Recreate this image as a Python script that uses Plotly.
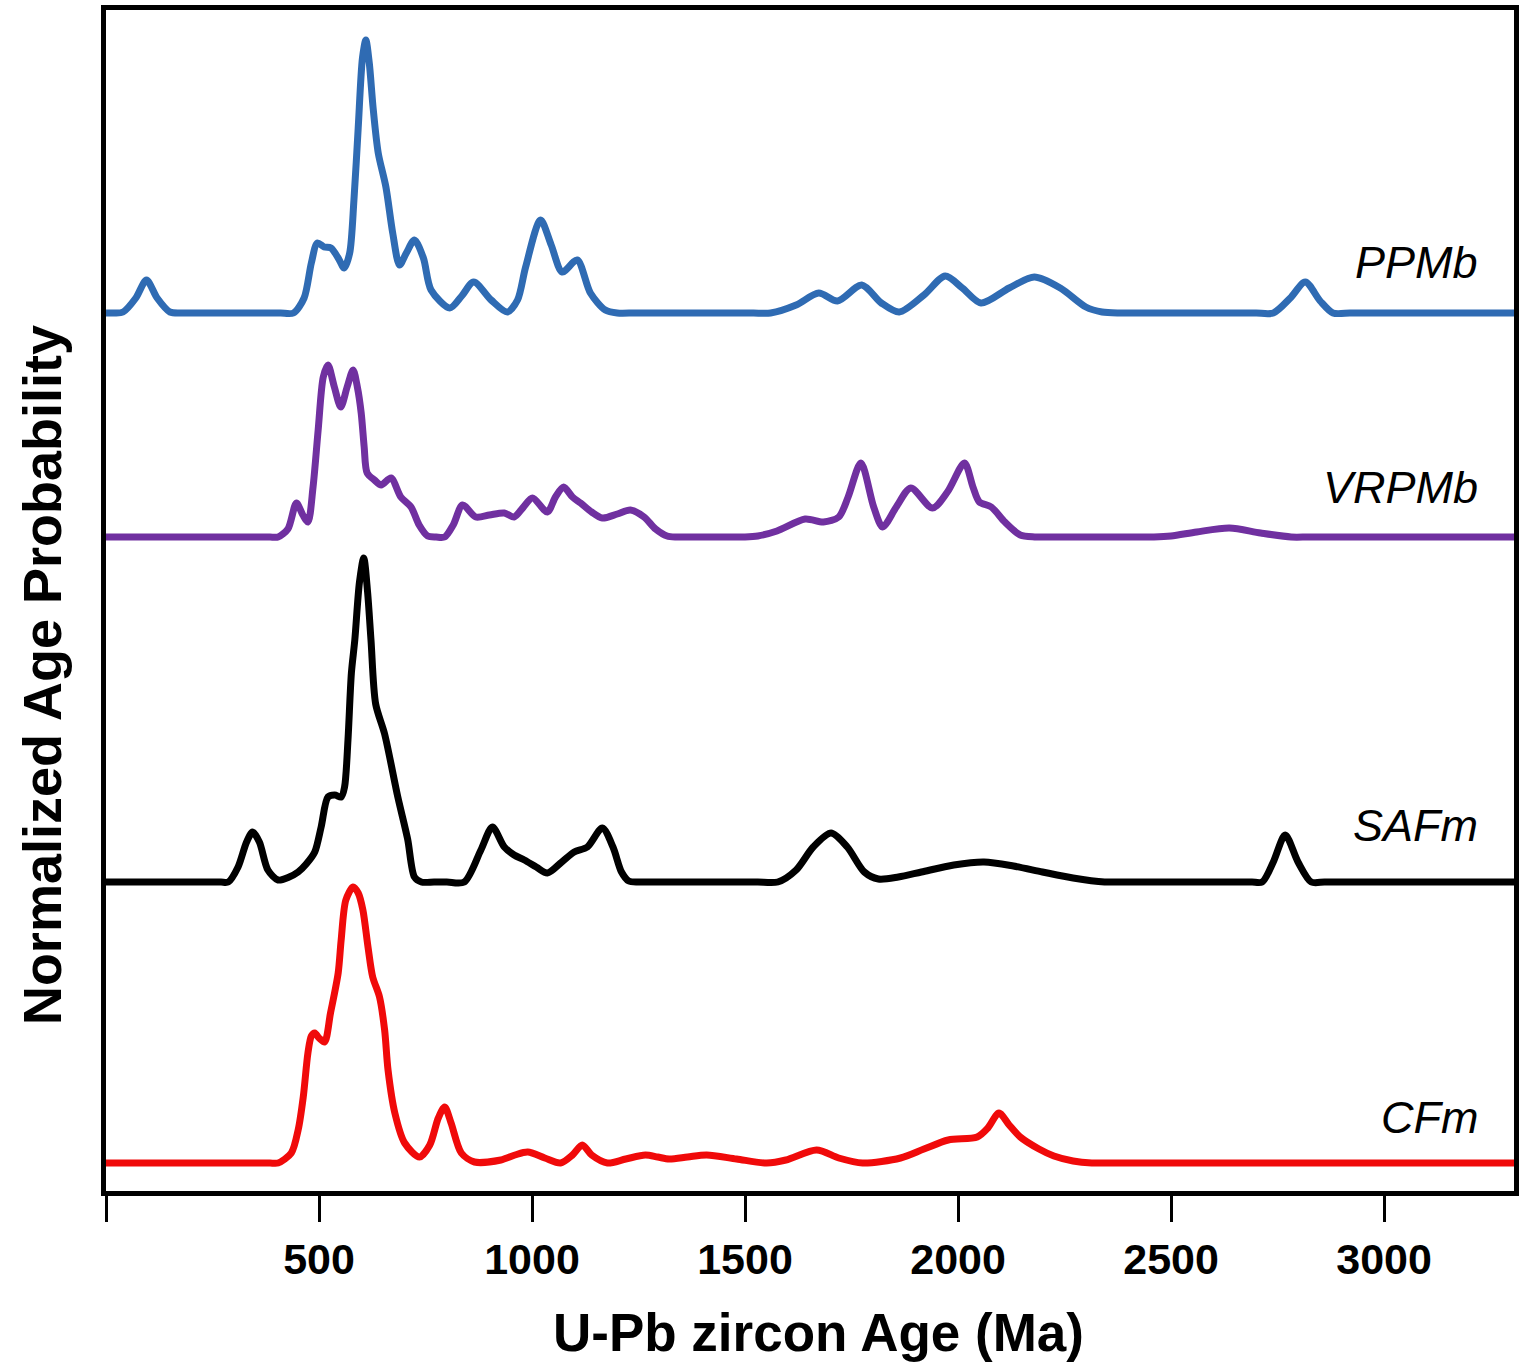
import plotly.graph_objects as go

# ---------------- data ----------------
# relative probability heights (arbitrary units) at given ages (Ma)
ppmb_age = [0, 20, 40, 70, 95, 120, 150, 180, 220, 260, 300, 340, 380, 410, 440, 465, 482, 496, 512, 528,
            545, 559, 572, 582, 592, 602, 610, 618, 627, 639, 657, 673, 689, 705, 724, 745, 763, 807, 835,
            863, 904, 942, 966, 985, 1020, 1045, 1071, 1106, 1137, 1172, 1200, 1240, 1280, 1320, 1360,
            1400, 1440, 1480, 1520, 1560, 1620, 1673, 1717, 1774, 1820, 1862, 1920, 1970, 2010, 2054, 2120,
            2179, 2240, 2300, 2338, 2380, 2420, 2460, 2500, 2540, 2580, 2620, 2660, 2700, 2740, 2780, 2815,
            2850, 2880, 2920, 2960, 3000, 3040, 3080, 3120, 3160, 3200, 3240, 3280, 3305]
ppmb_val = [0, 0, 1, 15, 33, 15, 1, 0, 0, 0, 0, 0, 0, 0, 0, 15, 50, 70, 66, 65,
            55, 45, 60, 113, 185, 255, 273, 250, 205, 160, 126, 80, 48, 60, 73, 55, 23, 5, 17,
            31, 13, 1, 13, 46, 93, 68, 41, 53, 20, 3, 0, 0, 0, 0, 0,
            0, 0, 0, 0, 0, 8, 20, 12, 28, 10, 1, 18, 37, 25, 10, 25,
            36, 25, 6, 1, 0, 0, 0, 0, 0, 0, 0, 0, 0, 0, 15, 31,
            12, 0, 0, 0, 0, 0, 0, 0, 0, 0, 0, 0, 0]

vrpmb_age = [0, 40, 80, 120, 160, 200, 240, 280, 320, 360, 385, 404, 427, 447, 462, 474, 486, 498, 510,
             521, 536, 551, 566, 580, 590, 599, 606, 613, 630, 646, 669, 692, 716, 735, 755, 775, 795, 815,
             837, 868, 900, 935, 958, 980, 1001, 1036, 1055, 1074, 1095, 1114, 1140, 1165, 1200, 1231,
             1263, 1290, 1317, 1340, 1380, 1420, 1460, 1500, 1530, 1575, 1641, 1684, 1720, 1742, 1772,
             1802, 1823, 1855, 1889, 1940, 1975, 2015, 2035, 2050, 2078, 2110, 2146, 2180, 2220, 2260,
             2300, 2340, 2380, 2420, 2460, 2500, 2560, 2637, 2710, 2782, 2820, 2860, 2900, 2940, 2980,
             3020, 3060, 3100, 3140, 3180, 3220, 3260, 3305]
vrpmb_val = [0, 0, 0, 0, 0, 0, 0, 0, 0, 0, 0, 0, 8, 34, 22, 15, 50, 107, 160,
             172, 150, 130, 150, 167, 150, 124, 90, 64, 57, 52, 59, 40, 30, 12, 1, 0, 0, 12,
             32, 20, 22, 24, 20, 30, 39, 25, 40, 50, 40, 34, 25, 19, 23, 27,
             20, 8, 1, 0, 0, 0, 0, 0, 1, 6, 18, 15, 20, 40, 74,
             30, 10, 30, 49, 29, 45, 74, 50, 35, 30, 15, 2, 0, 0, 0,
             0, 0, 0, 0, 0, 1, 5, 9, 4, 0, 0, 0, 0, 0, 0,
             0, 0, 0, 0, 0, 0, 0, 0]

safm_age = [0, 40, 80, 120, 160, 200, 240, 270, 287, 310, 330, 344, 360, 380, 404, 430, 451, 470, 490, 505,
            521, 537, 552, 560, 568, 576, 584, 595, 605, 614, 622, 633, 654, 685, 708, 724, 740, 770, 800,
            841, 880, 907, 935, 958, 982, 1010, 1036, 1070, 1099, 1130, 1165, 1190, 1210, 1227, 1250, 1290,
            1330, 1370, 1410, 1450, 1490, 1530, 1577, 1620, 1660, 1702, 1740, 1780, 1813, 1860, 1914, 1990,
            2061, 2130, 2198, 2270, 2344, 2380, 2420, 2460, 2500, 2540, 2580, 2620, 2660, 2690, 2714, 2740,
            2768, 2798, 2829, 2860, 2900, 2940, 2980, 3020, 3060, 3100, 3140, 3180, 3220, 3260, 3305]
safm_val = [0, 0, 0, 0, 0, 0, 0, 0, 0, 15, 40, 50, 40, 12, 2, 5, 10, 18, 30, 55,
            85, 87, 85, 95, 142, 209, 242, 300, 324, 290, 242, 178, 148, 85, 43, 5, 0, 0, 0,
            0, 32, 55, 35, 27, 22, 15, 9, 20, 30, 35, 54, 35, 10, 1, 0, 0,
            0, 0, 0, 0, 0, 0, 0, 12, 35, 49, 35, 10, 3, 5, 10, 17,
            20, 16, 10, 4, 0, 0, 0, 0, 0, 0, 0, 0, 0, 0, 0, 20,
            47, 20, 0, 0, 0, 0, 0, 0, 0, 0, 0, 0, 0, 0, 0]

cfm_age = [0, 40, 80, 120, 160, 200, 240, 280, 320, 360, 385, 404, 435, 451, 463, 474, 482, 490, 500, 513,
           527, 545, 552, 563, 580, 592, 603, 615, 626, 642, 654, 662, 678, 701, 736, 760, 780, 795, 810,
           834, 865, 927, 960, 990, 1030, 1067, 1095, 1118, 1140, 1177, 1220, 1266, 1295, 1322, 1365, 1410,
           1480, 1551, 1596, 1668, 1720, 1776, 1865, 1920, 1977, 2045, 2070, 2096, 2120, 2146, 2190, 2225,
           2270, 2314, 2350, 2390, 2430, 2470, 2510, 2550, 2590, 2630, 2670, 2710, 2750, 2790, 2830, 2870,
           2910, 2950, 2990, 3030, 3070, 3110, 3150, 3190, 3230, 3270, 3305]
cfm_val = [0, 0, 0, 0, 0, 0, 0, 0, 0, 0, 0, 0, 10, 33, 66, 110, 127, 130, 125, 121,
           150, 190, 223, 263, 276, 270, 253, 216, 186, 166, 133, 93, 50, 20, 6, 18, 45, 56, 40,
           10, 1, 3, 8, 11, 5, 0, 8, 18, 8, 0, 4, 8, 6, 4, 6, 8,
           4, 0, 3, 13, 5, 0, 5, 14, 23, 26, 35, 50, 38, 26, 14, 7,
           2, 0, 0, 0, 0, 0, 0, 0, 0, 0, 0, 0, 0, 0, 0, 0,
           0, 0, 0, 0, 0, 0, 0, 0, 0, 0, 0]

series_names = ["PPMb", "VRPMb", "SAFm", "CFm"]
tick_vals = [0, 500, 1000, 1500, 2000, 2500, 3000]
tick_text = ["", "500", "1000", "1500", "2000", "2500", "3000"]

# ---------------- figure ----------------
ages = [ppmb_age, vrpmb_age, safm_age, cfm_age]
vals = [ppmb_val, vrpmb_val, safm_val, cfm_val]
colors = ["#2F6BB3", "#7030A0", "#000000", "#F00A0A"]
offsets = [878, 654, 309, 28]          # vertical stacking offsets
label_y = [929, 704, 366, 74]

fig = go.Figure()
for a, v, c, off, name in zip(ages, vals, colors, offsets, series_names):
    fig.add_trace(go.Scatter(
        x=a, y=[val + off for val in v], mode="lines", name=name,
        line=dict(color=c, width=7, shape="spline", smoothing=0.8),
        showlegend=False, hoverinfo="skip"))

annotations = []
for name, ly in zip(series_names, label_y):
    annotations.append(dict(
        text=name, x=0.976, xref="paper", y=ly, yref="y", xanchor="right", yanchor="middle",
        showarrow=False, font=dict(family="Liberation Sans", size=45, color="black", style="italic")))
annotations.append(dict(
    text="U-Pb zircon Age (Ma)", x=0.506, xref="paper", y=-0.1202, yref="paper",
    xanchor="center", yanchor="middle", showarrow=False,
    font=dict(family="Liberation Sans", size=53, color="black", weight="bold")))
annotations.append(dict(
    text="Normalized Age Probability", x=-0.0453, xref="paper", y=0.437, yref="paper",
    xanchor="center", yanchor="middle", textangle=-90, showarrow=False,
    font=dict(family="Liberation Sans", size=54, color="black", weight="bold")))

fig.update_layout(
    width=1522, height=1371,
    margin=dict(l=106, r=3, t=10, b=180),
    paper_bgcolor="white", plot_bgcolor="white",
    annotations=annotations,
    xaxis=dict(range=[0, 3305], tickvals=tick_vals, ticktext=tick_text,
               ticks="outside", ticklen=26, tickwidth=3, tickcolor="black",
               showline=True, linecolor="black", linewidth=5, mirror=True,
               showgrid=False, zeroline=False,
               tickfont=dict(family="Liberation Sans", size=43, color="black", weight="bold")),
    yaxis=dict(range=[0, 1181], showticklabels=False, ticks="",
               showline=True, linecolor="black", linewidth=5, mirror=True,
               showgrid=False, zeroline=False),
)

fig.write_html("out.html")
